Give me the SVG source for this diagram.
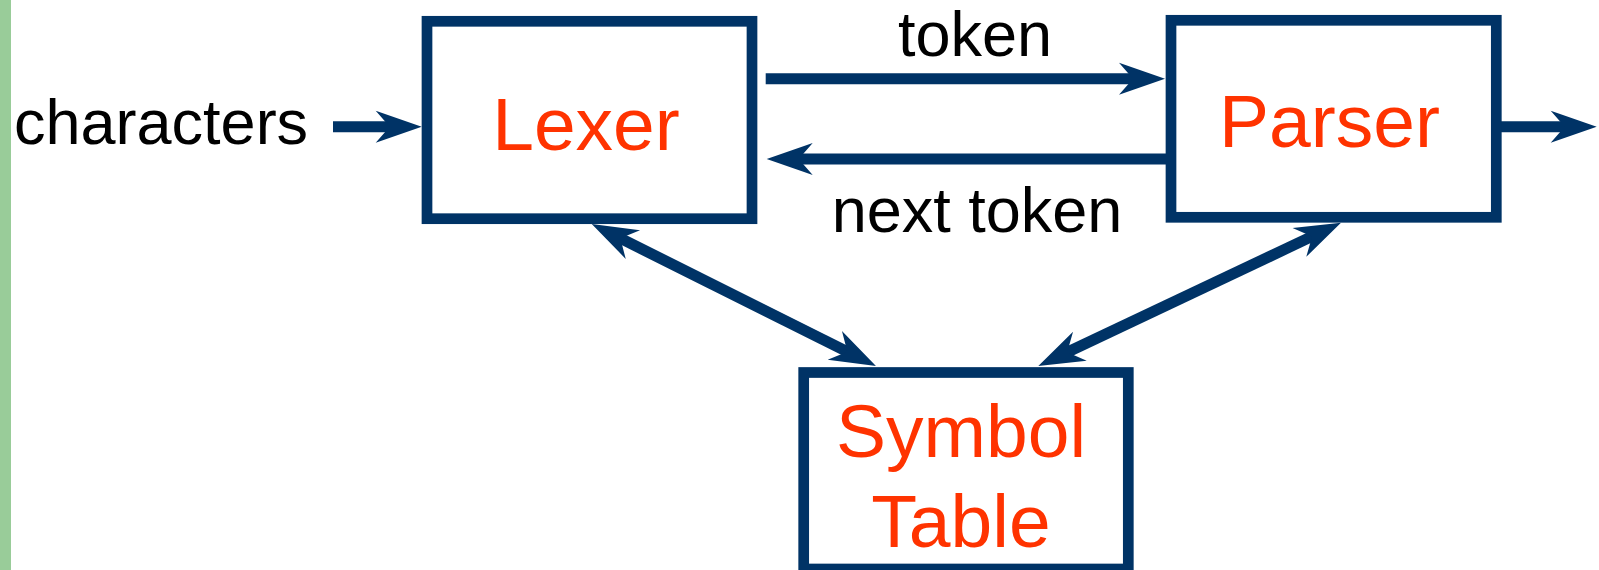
<svg xmlns="http://www.w3.org/2000/svg" width="1599" height="570" viewBox="0 0 1599 570">
  <style>
    .box { fill: #ffffff; stroke: #003366; stroke-width: 10.7; }
    .name { font-family: "Liberation Sans", Arial, sans-serif; font-size: 75px; fill: #ff3300; text-anchor: middle; }
    .label { font-family: "Liberation Sans", Arial, sans-serif; font-size: 63px; fill: #000000; }
    .flow { stroke: #003366; stroke-width: 11; fill: none; marker-end: url(#head); }
    .both { marker-start: url(#head); }
  </style>
  <defs>
    <!-- notched arrowhead; its tip sits 25 units beyond the line end -->
    <marker id="head" markerUnits="userSpaceOnUse" viewBox="-25 -18 52 36" markerWidth="52" markerHeight="36" refX="0" refY="0" orient="auto-start-reverse">
      <path d="M25,0 L-21,-16 L-7,0 L-21,16 Z" fill="#003366"/>
    </marker>
  </defs>

  <!-- margin strip -->
  <rect x="0" y="0" width="11" height="570" fill="#99cc99"/>

  <g id="connectors">
    <line class="flow" x1="333" y1="126.7" x2="396.7" y2="126.7"/>
    <line class="flow" x1="765.7" y1="78.7" x2="1140" y2="78.7"/>
    <line class="flow" x1="1166" y1="159" x2="791.7" y2="159"/>
    <line class="flow" x1="1501" y1="126.7" x2="1571.7" y2="126.7"/>
    <line class="flow both" x1="614.1" y1="235.2" x2="853.6" y2="354.8"/>
    <line class="flow both" x1="1318.4" y1="233.4" x2="1060.9" y2="355.3"/>
  </g>

  <g id="labels">
    <text class="label" x="14" y="144" font-size="65">characters</text>
    <text class="label" x="975" y="56" text-anchor="middle">token</text>
    <text class="label" x="977" y="232.3" text-anchor="middle">next token</text>
  </g>

  <g id="lexer">
    <rect class="box" x="427" y="21.3" width="325" height="197.4"/>
    <text class="name" x="586" y="150">Lexer</text>
  </g>

  <g id="parser">
    <rect class="box" x="1171" y="20.3" width="325.3" height="197"/>
    <text class="name" x="1329.5" y="146.7">Parser</text>
  </g>

  <g id="symbol-table">
    <rect class="box" x="803.7" y="372.5" width="324.6" height="196.5"/>
    <text class="name" x="961" y="457.3">Symbol</text>
    <text class="name" x="961" y="546.7">Table</text>
  </g>
</svg>
